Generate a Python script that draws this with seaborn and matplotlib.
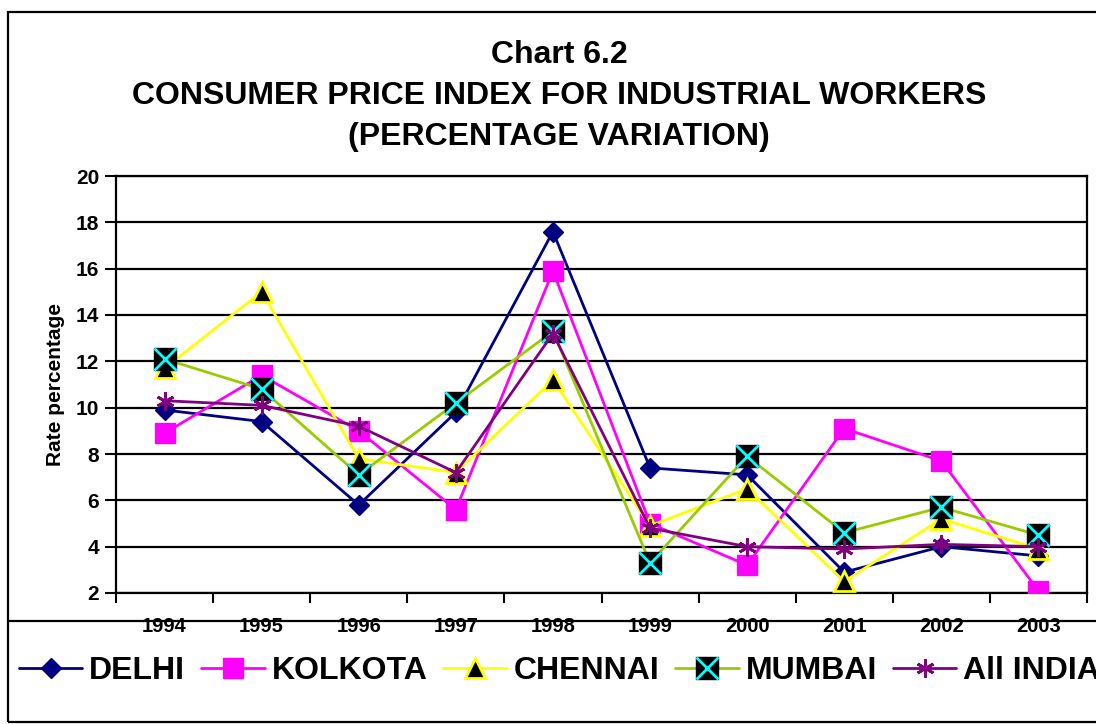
import matplotlib
matplotlib.use("Agg")
import matplotlib.pyplot as plt
import seaborn as sns
from matplotlib.lines import Line2D
from matplotlib.patches import Rectangle
from matplotlib.legend_handler import HandlerTuple

# ── Data ──────────────────────────────────────────────────────────────────────
YEARS     = ["1994", "1995", "1996", "1997", "1998",
             "1999", "2000", "2001", "2002", "2003"]
DELHI     = [9.9, 9.4, 5.8, 9.8, 17.6, 7.4, 7.1, 2.9, 4.0, 3.6]
KOLKOTA   = [8.9, 11.4, 9.0, 5.6, 15.9, 5.0, 3.2, 9.1, 7.7, 2.1]
CHENNAI   = [11.7, 15.0, 7.8, 7.2, 11.2, 4.9, 6.5, 2.5, 5.2, 3.9]
MUMBAI    = [12.1, 10.8, 7.1, 10.2, 13.3, 3.3, 7.9, 4.6, 5.7, 4.5]
ALL_INDIA = [10.3, 10.1, 9.2, 7.2, 13.2, 4.8, 4.0, 3.9, 4.1, 4.0]

Y_TICKS   = [2, 4, 6, 8, 10, 12, 14, 16, 18, 20]

# ── Style ─────────────────────────────────────────────────────────────────────
sns.set_style("white")
plt.rcParams["font.family"] = ["Liberation Sans", "DejaVu Sans"]
plt.rcParams["font.weight"] = "bold"
for key in ["text.color", "axes.labelcolor", "xtick.color", "ytick.color"]:
    plt.rcParams[key] = "black"

NAVY, MAGENTA, YELLOW = "#000080", "#FF00FF", "#FFFF00"
OLIVE, PURPLE, CYAN   = "#99CC00", "#800080", "#00FFFF"
LW = 2.0

fig = plt.figure(figsize=(10.96, 7.24), dpi=100)
ax = fig.add_axes([116 / 1096, 1 - 593 / 724, (1087 - 116) / 1096, (593 - 176) / 724])

x = list(range(len(YEARS)))

sns.lineplot(x=x, y=DELHI, ax=ax, color=NAVY, lw=LW, marker="D",
             markersize=10, markerfacecolor=NAVY, markeredgecolor=NAVY,
             markeredgewidth=1, zorder=3)
sns.lineplot(x=x, y=KOLKOTA, ax=ax, color=MAGENTA, lw=LW, marker="s",
             markersize=15, markerfacecolor=MAGENTA, markeredgecolor=MAGENTA,
             markeredgewidth=1, zorder=3)
sns.lineplot(x=x, y=CHENNAI, ax=ax, color=YELLOW, lw=LW, marker="^",
             markersize=14, markerfacecolor="black", markeredgecolor=YELLOW,
             markeredgewidth=2, zorder=3)
sns.lineplot(x=x, y=MUMBAI, ax=ax, color=OLIVE, lw=LW, marker="s",
             markersize=16, markerfacecolor="black", markeredgecolor="black",
             markeredgewidth=1, zorder=3)
sns.scatterplot(x=x, y=MUMBAI, ax=ax, marker="x", s=16 ** 2, color=CYAN,
                linewidth=2, zorder=4)
sns.lineplot(x=x, y=ALL_INDIA, ax=ax, color=PURPLE, lw=LW, marker=(6, 2, 0),
             markersize=13, markerfacecolor=PURPLE, markeredgecolor=PURPLE,
             markeredgewidth=2, zorder=5)

# ── Axes ──────────────────────────────────────────────────────────────────────
ax.set_xlim(-0.5, len(YEARS) - 0.5)
ax.set_ylim(2, 20)
ax.set_yticks(Y_TICKS)
ax.set_yticklabels([str(v) for v in Y_TICKS], fontsize=15, fontweight="bold")
ax.set_xticks([i - 0.5 for i in range(len(YEARS) + 1)])
ax.set_xticklabels([])
ax.set_xticks(x, minor=True)
ax.set_xticklabels(YEARS, minor=True, fontsize=14.5, fontweight="bold")
ax.tick_params(axis="x", which="major", direction="out", length=7, width=1.5,
               color="black", bottom=True)
ax.tick_params(axis="x", which="minor", length=0, pad=17)
ax.tick_params(axis="y", direction="out", length=8, width=1.5, color="black",
               left=True, pad=4)

ax.yaxis.grid(True, color="black", lw=1.6)
ax.xaxis.grid(False)
ax.set_axisbelow(True)
for side in ["left", "right", "bottom", "top"]:
    ax.spines[side].set_visible(True)
    ax.spines[side].set_color("black")
    ax.spines[side].set_linewidth(1.6)

ax.set_xlabel("")
ax.set_ylabel("Rate percentage", fontsize=15, fontweight="bold", labelpad=8)

# ── Titles ────────────────────────────────────────────────────────────────────
TITLE_X = 559 / 1096
fig.text(TITLE_X, 1 - 55 / 724, "Chart 6.2", ha="center", va="center",
         fontsize=23, fontweight="bold")
fig.text(TITLE_X, 1 - 96 / 724, "CONSUMER PRICE INDEX FOR INDUSTRIAL WORKERS",
         ha="center", va="center", fontsize=23, fontweight="bold")
fig.text(TITLE_X, 1 - 137 / 724, "(PERCENTAGE VARIATION)", ha="center",
         va="center", fontsize=23, fontweight="bold")

# ── Chart border and legend box ───────────────────────────────────────────────
fig.add_artist(Rectangle((8 / 1096, 2 / 724), 1.2, (722 - 12) / 724,
                         transform=fig.transFigure, fill=False,
                         edgecolor="black", lw=1.6))
fig.add_artist(Line2D([8 / 1096, 1.0], [1 - 621 / 724] * 2,
                      transform=fig.transFigure, color="black", lw=1.6))

# ── Legend ────────────────────────────────────────────────────────────────────
h_delhi = Line2D([], [], color=NAVY, lw=LW, marker="D", markersize=10,
                 markerfacecolor=NAVY, markeredgecolor=NAVY)
h_kolk = Line2D([], [], color=MAGENTA, lw=LW, marker="s", markersize=15,
                markerfacecolor=MAGENTA, markeredgecolor=MAGENTA)
h_chen = Line2D([], [], color=YELLOW, lw=LW, marker="^", markersize=14,
                markerfacecolor="black", markeredgecolor=YELLOW,
                markeredgewidth=2)
h_mum = Line2D([], [], color=OLIVE, lw=LW, marker="s", markersize=16,
               markerfacecolor="black", markeredgecolor="black")
h_mum_x = Line2D([], [], ls="none", marker="x", markersize=16,
                 markeredgecolor=CYAN, markeredgewidth=2)
h_all = Line2D([], [], color=PURPLE, lw=LW, marker=(6, 2, 0), markersize=13,
               markeredgecolor=PURPLE, markeredgewidth=2)

fig.legend([h_delhi, h_kolk, h_chen, (h_mum, h_mum_x), h_all],
           ["DELHI", "KOLKOTA", "CHENNAI", "MUMBAI", "All INDIA"],
           handler_map={tuple: HandlerTuple(ndivide=1, pad=0)},
           loc="center left", bbox_to_anchor=(19 / 1096, 1 - 671 / 724),
           ncol=5, frameon=False, borderpad=0, borderaxespad=0,
           handlelength=1.98, handletextpad=0.22, columnspacing=0.5,
           prop={"size": 23, "weight": "bold"})

fig.savefig("out.png", dpi=100)
